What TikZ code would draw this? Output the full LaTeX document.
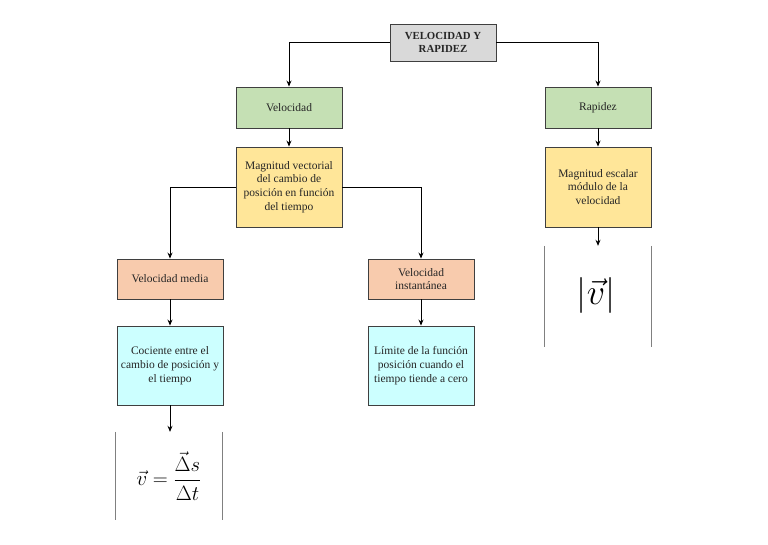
\documentclass[tikz,border=0pt]{standalone}
\usepackage{fontspec}
\setmainfont{Liberation Serif}
\usepackage{amsmath}
\usepackage{graphicx}
\usetikzlibrary{arrows.meta}
\definecolor{titlegray}{HTML}{D9D9D9}
\definecolor{boxgreen}{HTML}{C5E0B4}
\definecolor{boxyellow}{HTML}{FFE699}
\definecolor{boxsalmon}{HTML}{F8CBAD}
\definecolor{boxcyan}{HTML}{CCFFFF}
\definecolor{edgegray}{HTML}{3F3F3F}
\definecolor{textgray}{HTML}{262626}
\tikzset{
  basebox/.style={draw=edgegray, line width=0.9pt, minimum width=106pt, align=center, inner sep=0pt, text=textgray, font=\fontsize{11.5}{13.8}\selectfont},
  titlebox/.style={basebox, fill=titlegray, minimum height=37pt, font=\fontsize{10.8}{13}\selectfont\bfseries},
  greenbox/.style={basebox, fill=boxgreen, minimum height=41pt},
  yellowbox/.style={basebox, fill=boxyellow, minimum height=80pt},
  salmonbox/.style={basebox, fill=boxsalmon, minimum height=40pt},
  cyanbox/.style={basebox, fill=boxcyan, minimum height=79pt},
  formbox/.style={minimum width=106pt, inner sep=0pt},
  conn/.style={draw=black, line width=0.8pt, -{Stealth[length=6pt,width=5pt]}},
  sideline/.style={draw=gray, line width=0.8pt}
}
\begin{document}
\begin{tikzpicture}[x=1pt,y=-1pt]
\useasboundingbox (0,0) rectangle (768,544);
\node[titlebox] (title) at (443,42.5) {VELOCIDAD Y\\RAPIDEZ};
\node[greenbox] (vel) at (289,107.5) {Velocidad};
\node[greenbox] (rap) at (598,107.5) {Rapidez};
\node[yellowbox] (magv) at (289,187) {Magnitud vectorial\\del cambio de\\posición en función\\del tiempo};
\node[yellowbox] (mage) at (598,187) {Magnitud escalar\\módulo de la\\velocidad};
\node[salmonbox] (vmed) at (170,279) {Velocidad media};
\node[salmonbox] (vins) at (421,279) {Velocidad\\instantánea};
\node[cyanbox] (coc) at (170,365.5) {Cociente entre el\\cambio de posición y\\el tiempo};
\node[cyanbox] (lim) at (421,365.5) {Límite de la función\\posición cuando el\\tiempo tiende a cero};
\node[formbox, minimum height=88pt] (fl) at (169,476) {\fontsize{20.74}{24}\selectfont$\displaystyle \vec{v}=\frac{\vec{\Delta}s}{\Delta t}$};
\node[formbox, minimum height=101pt] (fr) at (598,296.5) {};
\node (frtext) at (596,295) {\scalebox{1.45}{\fontsize{24.88}{28}\selectfont$|\vec{v}|$}};
\draw[sideline] (fl.north west) -- (fl.south west);
\draw[sideline] (fl.north east) -- (fl.south east);
\draw[sideline] (fr.north west) -- (fr.south west);
\draw[sideline] (fr.north east) -- (fr.south east);
\draw[conn] (title.west) -| (vel.north);
\draw[conn] (title.east) -| (rap.north);
\draw[conn] (vel.south) -- (magv.north);
\draw[conn] (rap.south) -- (mage.north);
\draw[conn] (magv.west) -| (vmed.north);
\draw[conn] (magv.east) -| (vins.north);
\draw[conn] (vmed.south) -- (coc.north);
\draw[conn] (vins.south) -- (lim.north);
\draw[conn] (coc.south) -- (coc.south |- fl.north);
\draw[conn] (mage.south) -- (fr.north);
\end{tikzpicture}
\end{document}
